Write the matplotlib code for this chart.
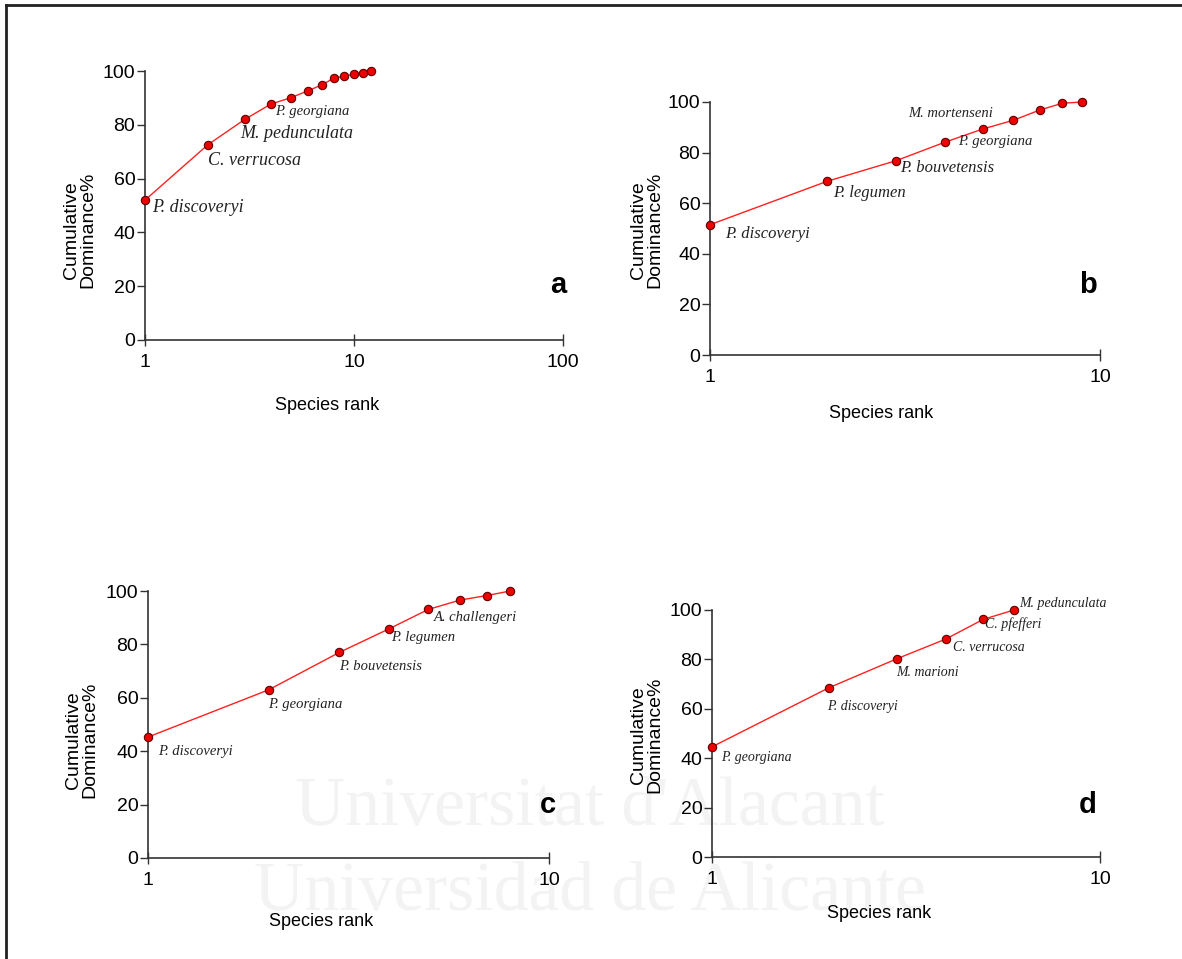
import numpy as np
import matplotlib
matplotlib.use('Agg')
import matplotlib.pyplot as plt
from matplotlib.lines import Line2D

plt.rcParams['font.family'] = ['Liberation Sans', 'DejaVu Sans']

# cumulative dominance (%) by species rank
a_vals = [52, 72.6, 82, 87.7, 90.1, 92.6, 94.8, 97.3, 98.1, 98.8, 99.3, 100]
b_vals = [51.5, 68.7, 76.8, 84.1, 89.3, 92.8, 96.8, 99.5, 100]
c_vals = [45.3, 63, 77, 85.9, 93.1, 96.6, 98.3, 100]
d_vals = [44.6, 68.5, 80.3, 88.2, 96.2, 100]

# named species (rank, name)
a_names = [(1, 'P. discoveryi'), (2, 'C. verrucosa'), (3, 'M. pedunculata'), (4, 'P. georgiana')]
b_names = [(1, 'P. discoveryi'), (2, 'P. legumen'), (3, 'P. bouvetensis'), (4, 'P. georgiana'), (5, 'M. mortenseni')]
c_names = [(1, 'P. discoveryi'), (2, 'P. georgiana'), (3, 'P. bouvetensis'), (4, 'P. legumen'), (5, 'A. challengeri')]
d_names = [(1, 'P. georgiana'), (2, 'P. discoveryi'), (3, 'M. marioni'), (4, 'C. verrucosa'), (5, 'C. pfefferi'), (6, 'M. pedunculata')]

yticks = [0, 20, 40, 60, 80, 100]

W, H = 1182, 959
fig = plt.figure(figsize=(W / 100, H / 100), dpi=100)

# faint watermark, behind everything
fig.text(590 / W, 1 - 808 / H, "Universitat d'Alacant", family='Liberation Serif',
         fontsize=50, color='#f3f3f3', ha='center', va='center', zorder=-5)
fig.text(590 / W, 1 - 893 / H, "Universidad de Alicante", family='Liberation Serif',
         fontsize=50, color='#f3f3f3', ha='center', va='center', zorder=-5)

# frame lines top / left
fig.add_artist(Line2D([6 / W, 6 / W], [0, 1 - 5 / H], color='#222222', lw=2))
fig.add_artist(Line2D([6 / W, 1], [1 - 5 / H, 1 - 5 / H], color='#222222', lw=2))

# panel setup: (vals, names, xmax, axes box px [x0, y_top, x1, y_bottom], letter, letter pos,
#               label offsets px, label sizes, ylabel center, xlabel center)
panels = [
    (a_vals, a_names, 100, [145, 71, 563, 340], 'a', (558, 285),
     [(7, -7), (0, -16), (-4, -14), (4, -7)], [13, 13, 13, 10.5], (80, 230), (327, 405)),
    (b_vals, b_names, 10, [710, 102, 1100, 355], 'b', (1088, 285),
     [(15, -9), (6, -12), (4, -7), (13, 1), (10, 16)], [12, 12, 12, 10.5, 10.5], (647, 230), (881, 413)),
    (c_vals, c_names, 10, [148, 591, 549, 858], 'c', (548, 805),
     [(10, -14), (-1, -15), (0, -14), (2, -9), (6, -8)], [10.5] * 5, (82, 740), (321, 922)),
    (d_vals, d_names, 10, [712, 610, 1100, 857], 'd', (1088, 805),
     [(9, -11), (-2, -19), (-1, -14), (7, -8), (2, -5), (5, 7)], [10, 10, 10, 10, 10, 10], (647, 735), (879, 913)),
]

for vals, names, xmax, box, letter, lpos, offs, sizes, ylab, xlab in panels:
    x0, yt, x1, yb = box
    ax = fig.add_axes([x0 / W, 1 - yb / H, (x1 - x0) / W, (yb - yt) / H])
    ax.patch.set_alpha(0)
    ranks = np.arange(1, len(vals) + 1)
    ax.plot(ranks, vals, color='#ff2020', lw=1, marker='o', ms=6,
            mfc='#ee0000', mec='#600000', mew=0.8, clip_on=False, zorder=3)
    ax.set_xscale('log')
    ax.set_xlim(1, xmax)
    ax.set_ylim(0, 100)
    ax.set_xticks([1, 10, 100] if xmax == 100 else [1, 10])
    ax.set_xticklabels(['1', '10', '100'] if xmax == 100 else ['1', '10'])
    ax.xaxis.set_minor_locator(plt.NullLocator())
    ax.set_yticks(yticks)
    for s in ['top', 'right']:
        ax.spines[s].set_visible(False)
    for s in ['left', 'bottom']:
        ax.spines[s].set_color('#333333')
        ax.spines[s].set_linewidth(1.2)
    ax.tick_params(axis='y', direction='out', length=6, width=1, color='#333333',
                   labelsize=14, pad=1)
    ax.tick_params(axis='x', direction='inout', length=8, width=1, color='#333333',
                   labelsize=14, pad=6)
    for (r, name), (dx, dy), fs in zip(names, offs, sizes):
        ha = 'right' if name == 'M. mortenseni' else 'left'
        ax.annotate(name, (r, vals[r - 1]), xytext=(dx, dy), textcoords='offset pixels',
                    family='Liberation Serif', style='italic', fontsize=fs,
                    ha=ha, va='center', color='#222222')
    fig.text(ylab[0] / W, 1 - ylab[1] / H, 'Cumulative\nDominance%', rotation=90,
             ha='center', va='center', fontsize=14, linespacing=0.95)
    fig.text(xlab[0] / W, 1 - xlab[1] / H, 'Species rank',
             ha='center', va='center', fontsize=13)
    fig.text(lpos[0] / W, 1 - lpos[1] / H, letter, ha='center', va='center',
             fontsize=21, fontweight='bold')

fig.savefig('out.png', dpi=100)
